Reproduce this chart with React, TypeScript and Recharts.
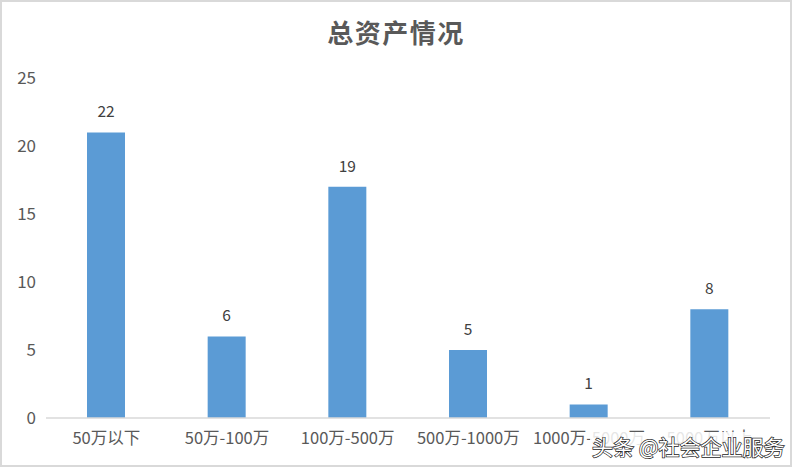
import React from 'react';
import { BarChart, Bar, XAxis, YAxis, LabelList } from 'recharts';

// 总资产情况
const categories = ['50万以下', '50万-100万', '100万-500万', '500万-1000万', '1000万-5000万', '5000万以上'];
const barValues = [21, 6, 17, 5, 1, 8];
const labelTexts = ['22', '6', '19', '5', '1', '8'];
const yTicks = [0, 5, 10, 15, 20, 25];

const data = categories.map((name, i) => ({ name, value: barValues[i], label: labelTexts[i] }));

const FONT = '"Noto Sans CJK SC", "Noto Sans", sans-serif';

const BarLabel = (props: any) => {
  const { x, y, width, index } = props;
  return (
    <text
      x={x + width / 2}
      y={y - 15}
      textAnchor="middle"
      fill="#404040"
      fontSize={15.5}
      fontFamily={FONT}
    >
      {labelTexts[index]}
    </text>
  );
};

export default function App() {
  return (
    <div style={{ position: 'relative', width: 792, height: 467, background: '#fff', fontFamily: FONT }}>
      <style>{'body{margin:0}'}</style>
      <div
        style={{
          position: 'absolute', left: 0, top: 0, width: 788, height: 463,
          border: '2px solid #d9d9d9', pointerEvents: 'none',
        }}
      />
      <div
        style={{
          position: 'absolute', left: 0, top: 13, width: 792, textAlign: 'center',
          fontSize: 26, fontWeight: 600, color: '#595959', letterSpacing: 1.5,
        }}
      >
        总资产情况
      </div>
      <BarChart
        width={792}
        height={467}
        data={data}
        margin={{ top: 78, right: 22, bottom: 19, left: 0 }}
      >
        <XAxis
          dataKey="name"
          axisLine={{ stroke: '#d9d9d9', strokeWidth: 1.5 }}
          tickLine={false}
          tick={{ fill: '#595959', fontSize: 16.5, fontFamily: FONT }}
          tickMargin={8}
          interval={0}
        />
        <YAxis
          domain={[0, 25]}
          ticks={yTicks}
          width={46}
          axisLine={false}
          tickLine={false}
          tick={{ fill: '#595959', fontSize: 17, fontFamily: FONT, dx: -2 }}
        />
        <Bar dataKey="value" fill="#5b9bd5" barSize={38} isAnimationActive={false}>
          <LabelList dataKey="label" content={<BarLabel />} />
        </Bar>
      </BarChart>
      <svg
        width={792}
        height={467}
        style={{ position: 'absolute', left: 0, top: 0, pointerEvents: 'none' }}
      >
        <rect x={590} y={432} width={196} height={28} fill="#ffffff" opacity={0.85} />
        <text
          x={592}
          y={455}
          fontSize={21}
          fontFamily={FONT}
          fill="#ffffff"
          stroke="#222222"
          strokeWidth={1.4}
          paintOrder="stroke"
        >
          头条 @社会企业服务
        </text>
      </svg>
    </div>
  );
}
